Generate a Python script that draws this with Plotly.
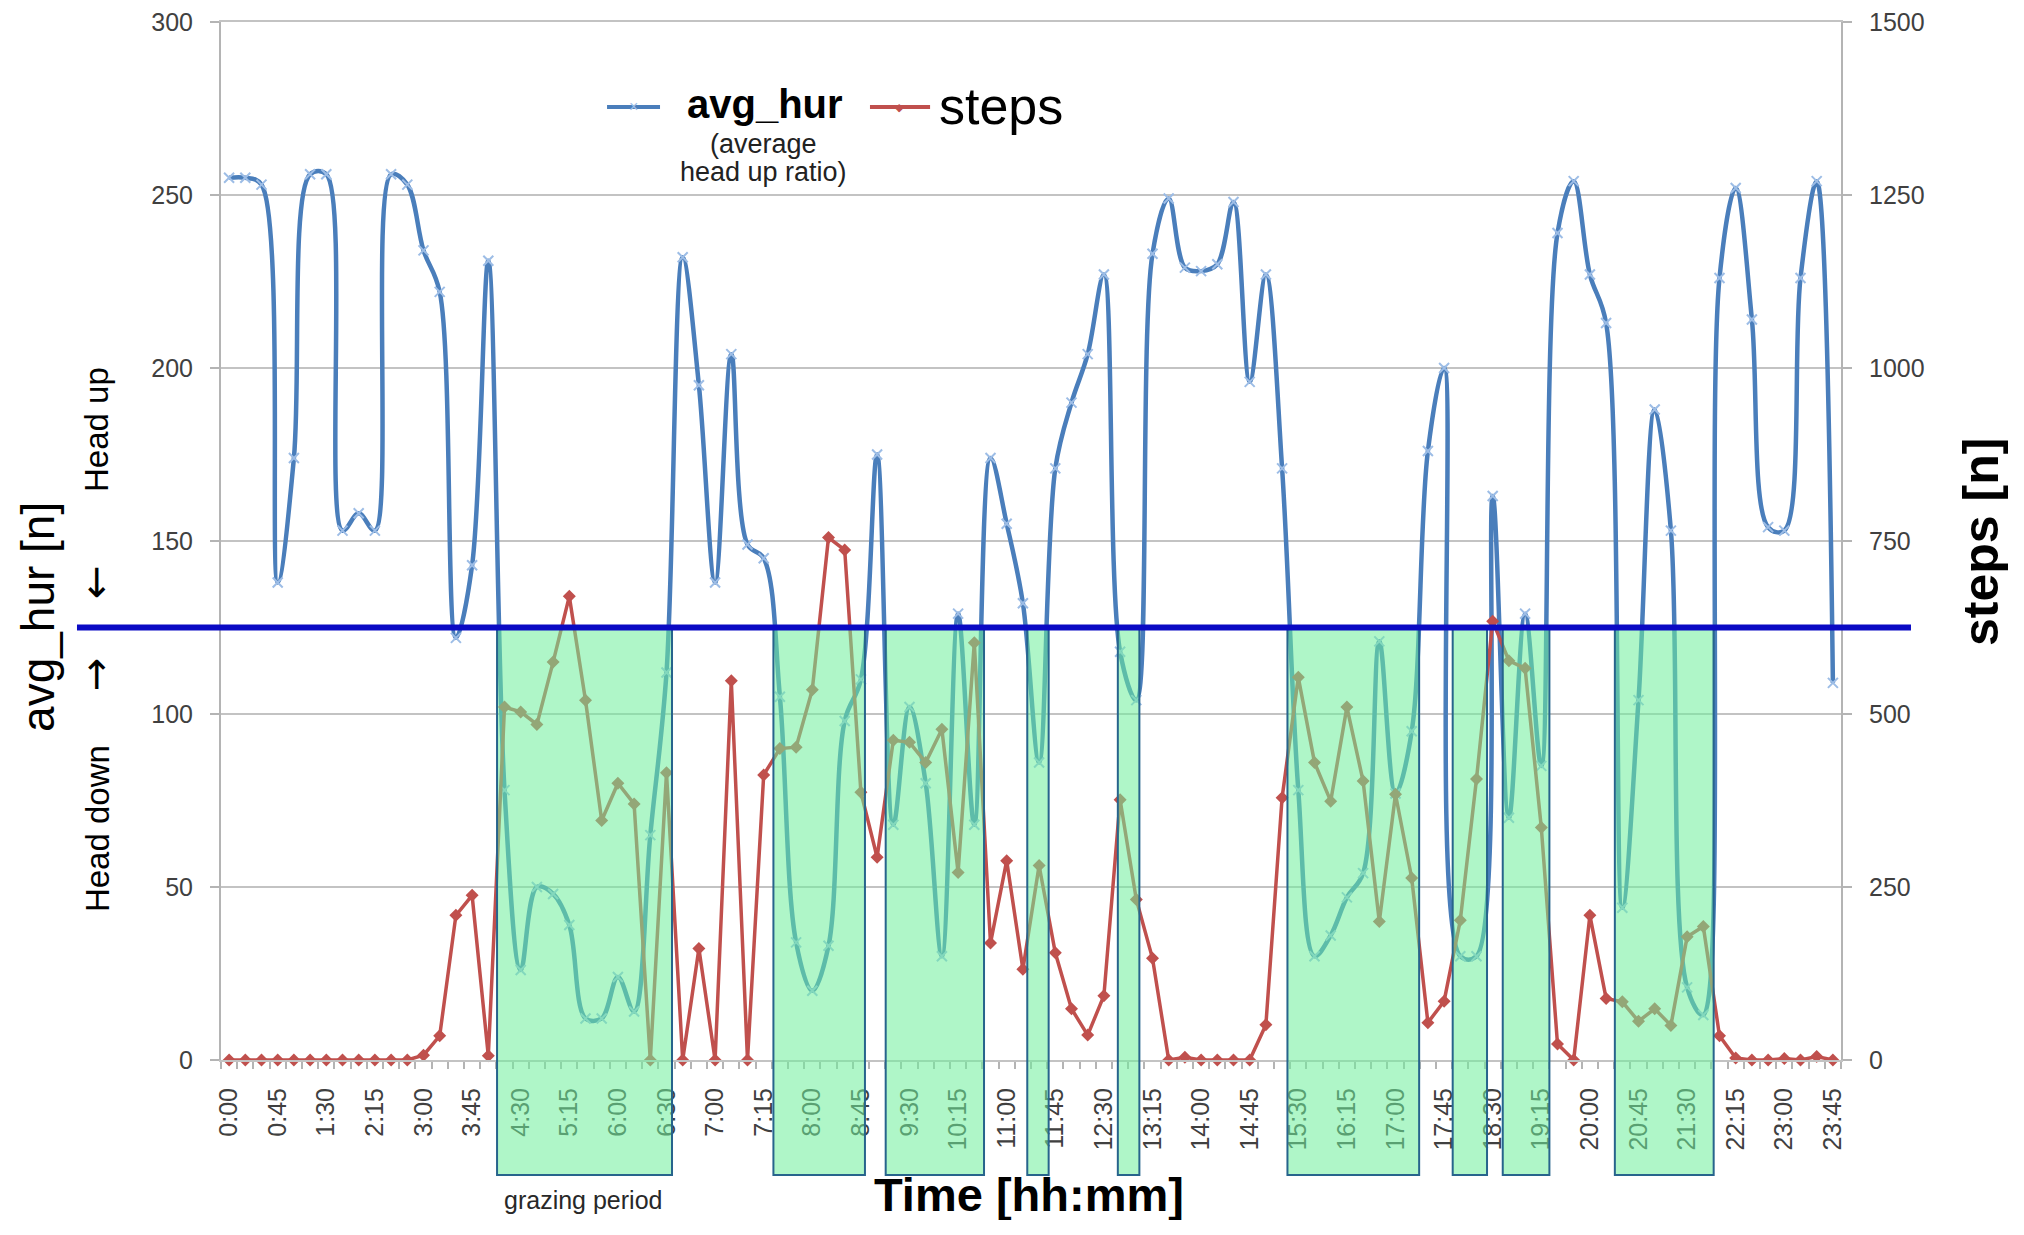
import plotly.graph_objects as go

# ---------------- data ----------------
n_points = 100
tick_idx = list(range(0, 100, 3))
tick_labels = ["0:00", "0:45", "1:30", "2:15", "3:00", "3:45", "4:30", "5:15", "6:00",
               "6:30", "7:00", "7:15", "8:00", "8:45", "9:30", "10:15", "11:00", "11:45",
               "12:30", "13:15", "14:00", "14:45", "15:30", "16:15", "17:00", "17:45",
               "18:30", "19:15", "20:00", "20:45", "21:30", "22:15", "23:00", "23:45"]

avg_hur = [255, 255, 253, 138, 174, 256, 256, 153, 158, 153,
           256, 253, 234, 222, 122, 143, 231, 78, 26, 50,
           48, 39, 12, 12, 24, 14, 65, 112, 232, 195,
           138, 204, 149, 145, 105, 34, 20, 33, 98, 110,
           175, 68, 102, 80, 30, 129, 68, 174, 155, 132,
           86, 171, 190, 204, 227, 118, 104, 233, 249, 229,
           228, 230, 248, 196, 227, 171, 78, 30, 36, 47,
           54, 121, 77, 95, 176, 200, 30, 30, 163, 70,
           129, 85, 239, 254, 227, 213, 44, 104, 188, 153,
           21, 13, 226, 252, 214, 154, 153, 226, 254, 109]

steps = [0, 0, 0, 0, 0, 0, 0, 0, 0, 0,
         0, 0, 7, 35, 209, 238, 6, 510, 503, 485,
         575, 670, 520, 346, 400, 370, 0, 415, 0, 161,
         0, 548, 0, 412, 450, 452, 535, 755, 737, 387,
         293, 462, 459, 430, 478, 271, 603, 169, 288, 131,
         281, 155, 74, 36, 93, 376, 232, 147, 0, 4,
         0, 0, 0, 0, 51, 379, 553, 430, 374, 510,
         403, 200, 384, 263, 54, 85, 202, 406, 634, 577,
         566, 336, 23, 0, 209, 89, 84, 56, 74, 50,
         178, 193, 35, 3, 0, 0, 2, 0, 5, 0]

threshold = 125
grazing_start = [16.54, 33.6, 40.53, 49.27, 54.86, 65.33, 75.53, 78.62, 85.54]
grazing_end = [27.34, 39.25, 46.6, 50.59, 56.19, 73.46, 77.65, 81.5, 91.64]

x_idx = list(range(n_points))

# ---------------- styles ----------------
FONT = "Liberation Sans, Arial, sans-serif"
GRID = "#c3c3c3"
AXL = "#b4b4b4"
TICKC = "#404040"
BLUE = "#4a7ebb"
RED = "#c0504d"

fig = go.Figure()

fig.add_trace(go.Scatter(
    x=x_idx, y=avg_hur, mode="lines+markers", name="avg_hur",
    line=dict(color=BLUE, width=4.5, shape="spline", smoothing=1.0),
    marker=dict(symbol="x-thin", size=10, color="#9dbde6",
                line=dict(color="#9dbde6", width=2)),
    cliponaxis=False, showlegend=False, yaxis="y"))

fig.add_trace(go.Scatter(
    x=x_idx, y=steps, mode="lines+markers", name="steps",
    line=dict(color=RED, width=3.5),
    marker=dict(symbol="diamond", size=10, color=RED),
    cliponaxis=False, showlegend=False, yaxis="y2"))

shapes = []
# white box behind legend text (hides gridline)
shapes.append(dict(type="rect", xref="paper", yref="paper",
                   x0=0.2722, x1=0.3994, y0=0.8237, y1=0.9008,
                   fillcolor="white", line=dict(width=0), layer="between"))

# grazing periods
for s, e in zip(grazing_start, grazing_end):
    shapes.append(dict(type="rect", xref="x", yref="paper",
                       x0=s, x1=e, y0=-0.1108, y1=threshold / 300,
                       fillcolor="rgba(110,238,155,0.55)",
                       line=dict(color="#27648c", width=2), layer="above"))

# threshold line
shapes.append(dict(type="line", xref="paper", yref="paper",
                   x0=-0.0889, x1=1.0432, y0=threshold / 300, y1=threshold / 300,
                   line=dict(color="#0a0ac4", width=6), layer="above"))

# legend samples
shapes.append(dict(type="line", xref="paper", yref="paper",
                   x0=0.2383, x1=0.2710, y0=0.918, y1=0.918,
                   line=dict(color=BLUE, width=4)))
shapes.append(dict(type="line", xref="paper", yref="paper",
                   x0=0.4006, x1=0.4377, y0=0.918, y1=0.918,
                   line=dict(color=RED, width=4)))


def ann(x, y, text, size, color="black", angle=0, xanchor="center", family=FONT):
    return dict(x=x, y=y, xref="paper", yref="paper", text=text, showarrow=False,
                xanchor=xanchor, yanchor="middle", textangle=angle,
                font=dict(family=family, size=size, color=color))


annotations = [
    ann(0.2546, 0.9185, "×", 16, "#9dbde6"),
    ann(0.4190, 0.9185, "◆", 11, RED),
    ann(0.3358, 0.921, "<b>avg_hur</b>", 40),
    ann(0.3346, 0.8825, "(average", 27, "#222222"),
    ann(0.3350, 0.8555, "head up ratio)", 27, "#222222"),
    ann(0.4420, 0.9195, "steps", 52, xanchor="left"),
    # axis titles
    ann(-0.113, 0.4268, "avg_hur [n]", 46, angle=-90),
    ann(-0.0765, 0.607, "Head up", 33, angle=-90),
    ann(-0.0765, 0.4595, "↓", 40, family="DejaVu Sans"),
    ann(-0.0765, 0.371, "↑", 40, family="DejaVu Sans"),
    ann(-0.0765, 0.2225, "Head down", 33, angle=-90),
    ann(1.0864, 0.499, "<b>steps [n]</b>", 50, angle=-90),
    ann(0.4988, -0.1300, "<b>Time [hh:mm]</b>", 47),
    ann(0.2235, -0.1349, "grazing period", 25, "#282828"),
]

# page body has an 8px margin: shrink the figure so the plot area lands where intended
fig.update_layout(
    width=2000, height=1212,
    margin=dict(l=213, r=167, t=14, b=160, autoexpand=False),
    paper_bgcolor="white", plot_bgcolor="white",
    font=dict(family=FONT),
    showlegend=False,
    shapes=shapes, annotations=annotations,
    xaxis=dict(range=[-0.5, 99.5], tickmode="array", tickvals=tick_idx, ticktext=tick_labels,
               tickangle=-90, tickfont=dict(family=FONT, size=25, color=TICKC),
               ticks="", showgrid=False, zeroline=False, automargin=False,
               showline=True, mirror=True, linecolor=GRID, linewidth=2,
               ticklabelstandoff=16,
               minor=dict(ticks="outside", ticklen=7, tickwidth=2, tickcolor=AXL,
                          tickmode="linear", tick0=0.5, dtick=1, showgrid=False)),
    yaxis=dict(range=[0, 300], tickmode="linear", tick0=0, dtick=50,
               showgrid=True, gridcolor=GRID, gridwidth=2, zeroline=False, automargin=False,
               showline=True, linecolor=AXL, linewidth=2,
               ticks="outside", ticklen=9, tickwidth=2, tickcolor=AXL,
               ticklabelstandoff=12, ticklabeloverflow="allow",
               tickfont=dict(family=FONT, size=25, color=TICKC)),
    yaxis2=dict(range=[0, 1500], tickmode="linear", tick0=0, dtick=250,
                overlaying="y", side="right", showgrid=False, zeroline=False, automargin=False,
                showline=True, linecolor=AXL, linewidth=2,
                ticks="outside", ticklen=9, tickwidth=2, tickcolor=AXL,
                ticklabelstandoff=12, ticklabeloverflow="allow",
                tickfont=dict(family=FONT, size=25, color=TICKC)),
)

fig.write_html("out.html")
